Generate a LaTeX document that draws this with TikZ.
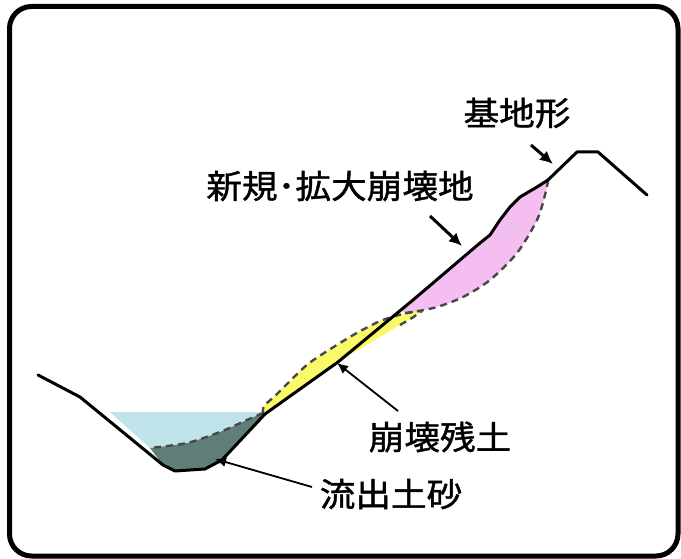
\documentclass[tikz,border=0pt]{standalone}
\usepackage{fontspec}
\newfontfamily\jpfont[FakeStretch=1.08,FakeBold=1.2]{Noto Sans CJK JP}
\usetikzlibrary{arrows.meta}
\definecolor{slidepink}{RGB}{245,190,240}
\definecolor{debrisyellow}{RGB}{250,250,105}
\definecolor{sediment}{RGB}{96,126,120}
\definecolor{water}{RGB}{192,226,233}
\definecolor{dashgray}{RGB}{72,72,72}

\begin{document}
\begin{tikzpicture}[x=1pt,y=-1pt,>=Latex,
 font=\jpfont\fontsize{33}{36}\selectfont,
 ground/.style={line width=3pt,line join=round,line cap=round},
 slipline/.style={draw=dashgray,line width=2.4pt,dash pattern=on 7pt off 5pt},
 callout/.style={line width=3pt,-{Latex[length=13pt,width=12pt]}},
 thincallout/.style={line width=1.8pt,-{Latex[length=11pt,width=10pt]}},
 tag/.style={inner sep=0pt}]
\useasboundingbox (0,0) rectangle (681,559);
\fill[white] (0,0) rectangle (681,559);
\draw[line width=5pt,rounded corners=22pt] (9.5,6.5) rectangle (678,556);

% fills
\fill[water] (110,412) -- (263,412)
  -- plot[smooth] coordinates {(263,413) (247,420) (220,432) (187,443) (150,448)} -- cycle;
\fill[sediment] plot[smooth] coordinates {(263,413) (247,420) (220,432) (187,443) (150,448)}
  -- (163,465) -- (175,471) -- (205,469) -- (222,460) -- (265,414) -- cycle;
\fill[debrisyellow] plot[smooth] coordinates {(263,414) (264,406) (275,396) (288,383) (308,364) (332,348) (355,334) (378,322) (395,316) (412,312) (422,311)}
  -- (412,318) -- (400,325) -- (338,362) -- (265,414) -- cycle;
\fill[slidepink] (548,181) -- (537,187) -- (520,197) -- (510,207) -- (500,220) -- (490,235)
  -- (480,243) -- (460,260) -- (433,283) -- (413,300) -- (403,310)
  -- plot[smooth] coordinates {(403,312) (413,312) (437,307) (463,297) (490,280) (517,253) (537,220) (545,195) (548,181)};

% slip surfaces
\draw[slipline] plot[smooth] coordinates {(263,413) (247,420) (220,432) (187,443) (150,448)};
\draw[slipline] plot[smooth] coordinates {(263,414) (264,406) (275,396) (288,383) (308,364) (332,348) (355,334) (378,322) (395,316) (412,312) (422,311)};
\draw[slipline] (400,325) -- (412,318) -- (422,311);
\draw[slipline] plot[smooth] coordinates {(405,313) (413,312) (437,307) (463,297) (490,280) (517,253) (537,220) (545,195) (548,181)};

% ground line
\draw[ground] (38,375) -- (80,397) -- (163,465) -- (175,471) -- (205,469) -- (222,460)
  -- (265,414) -- (338,362) -- (413,300) -- (433,283) -- (460,260) -- (480,243)
  -- (490,235) -- (500,220) -- (510,207) -- (520,197) -- (537,187) -- (548,180)
  -- (577,152) -- (598,152) -- (647,195);

\node[tag] (base) at (517,113) {基地形};
\node[tag] (newslide) at (340,186) {新規･拡大崩壊地};
\node[tag] (residue) at (440,437) {崩壊残土};
\node[tag] (outflow) at (391,494) {流出土砂};

\coordinate (baseFrom) at (531,145);
\coordinate (baseTo) at (553,164);
\coordinate (newFrom) at (430,216);
\coordinate (newTo) at (462,246);
\coordinate (resFrom) at (398,411);
\coordinate (resTo) at (337,363);
\coordinate (outFrom) at (312,487);
\coordinate (outTo) at (215,459);
\draw[callout] (baseFrom) -- (baseTo);
\draw[callout] (newFrom) -- (newTo);
\draw[thincallout] (resFrom) -- (resTo);
\draw[thincallout] (outFrom) -- (outTo);
\end{tikzpicture}
\end{document}
